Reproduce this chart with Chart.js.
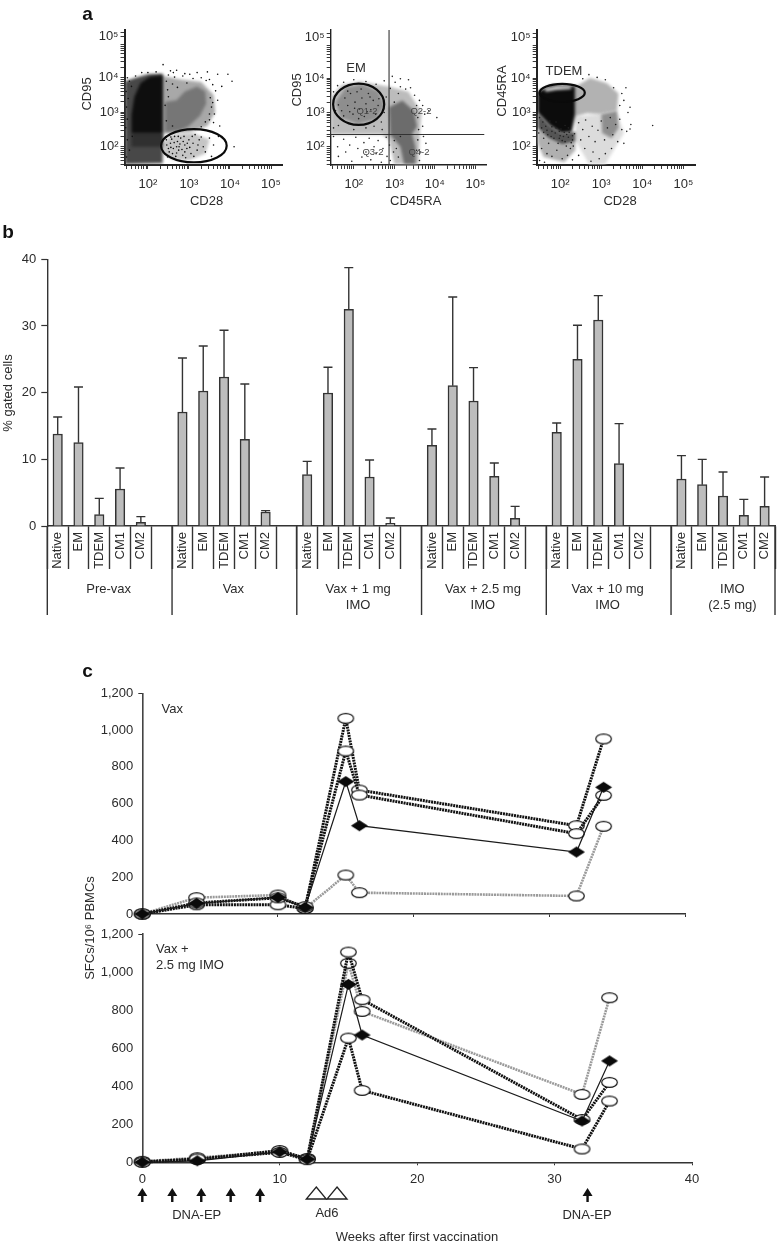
<!DOCTYPE html>
<html>
<head>
<meta charset="utf-8">
<script src="https://cdn.jsdelivr.net/npm/chart.js@4.4.1/dist/chart.umd.js"></script>
<style>
  body { margin: 0; background: #fff; }
  #page { position: relative; width: 777px; height: 1247px; overflow: hidden; }
  canvas { position: absolute; left: 0; top: 0; filter: blur(0.4px); }
</style>
</head>
<body>
<div id="page">
  <canvas id="flow1" width="777" height="1247"></canvas>
  <canvas id="flow2" width="777" height="1247"></canvas>
  <canvas id="flow3" width="777" height="1247"></canvas>
  <canvas id="bars" width="777" height="1247"></canvas>
  <canvas id="vax" width="777" height="1247"></canvas>
  <canvas id="imo" width="777" height="1247"></canvas>
</div>
<script>
// panel b
const cellTypes = ["Native", "EM", "TDEM", "CM1", "CM2", ""];
const groupNames = [["Pre-vax"], ["Vax"], ["Vax + 1 mg", "IMO"], ["Vax + 2.5 mg", "IMO"], ["Vax + 10 mg", "IMO"], ["IMO", "(2.5 mg)"]];
const gatedMeans = [
  13.8, 12.5, 1.7, 5.55, 0.55, null,
  17.1, 20.25, 22.35, 13, 2.1, null,
  7.7, 19.95, 32.5, 7.35, 0.4, null,
  12.1, 21.05, 18.75, 7.45, 1.15, null,
  14.05, 25, 30.9, 9.35, null, null,
  7.05, 6.2, 4.5, 1.6, 2.95,
];
const gatedUpper = [
  16.35, 20.85, 4.15, 8.7, 1.4, null,
  25.2, 27, 29.35, 21.3, 2.3, null,
  9.7, 23.8, 38.75, 9.9, 1.2, null,
  14.55, 34.35, 23.75, 9.45, 2.95, null,
  15.45, 30.1, 34.55, 15.35, null, null,
  10.55, 10, 8.1, 4, 7.35,
];

// panel c
const weeks = [0, 4, 10, 12, 15, 16, 32, 34];
const vaxHigh = [0, 50, 50, 30, 1064, 674, 480, 952];
const vaxMid = [0, 60, 88, 40, 886, 647, 437, 645];
const vaxDiamond = [0, 58, 90, 36, 720, 480, 337, 689];
const vaxGrey = [0, 89, 103, 30, 212, 116, 98, 477];
const imoHigh = [3, 15, 62, 18, 1105, 855, 225, 420];
const imoGrey = [5, 24, 58, 20, 1046, 793, 357, 865];
const imoDiamond = [0, 8, 55, 16, 935, 669, 217, 533];
const imoLow = [0, 18, 52, 14, 653, 378, 70, 322];
const dnaWeeks = [0, 2.18, 4.29, 6.43, 8.57, 32.4];
const ad6Weeks = [12.66, 14.17];

// panel a, everything in decades (log10)
const p1Black = [[1.6,2.39],[1.6,2.93],[1.67,3.45],[1.82,3.85],[2.05,4.03],[2.36,4.07],[2.36,2.39]];
const p1DarkLow = [[1.6,2.39],[2.36,2.39],[2.36,2.0],[1.6,2.0]];
const p1Speckle = [[1.44,1.5],[1.44,3.9],[1.7,4.0],[2.0,4.1],[2.36,4.12],[2.36,2.0],[2.36,1.52]];
const p1Heart = [[2.42,3.3],[2.7,3.35],[2.9,3.6],[3.2,3.75],[3.4,3.6],[3.42,3.25],[3.27,2.9],[3.0,2.6],[2.8,2.48],[2.42,2.42]];
const p1Halo = [[2.36,4.05],[2.8,3.95],[3.3,3.88],[3.6,3.5],[3.64,3.0],[3.45,2.6],[3.0,2.42],[2.36,2.38]];
const p1InGate = [[2.35,2.1],[2.6,2.35],[3.1,2.4],[3.5,2.2],[3.4,1.8],[3.0,1.6],[2.6,1.62],[2.38,1.8]];
const p1Dots = [
  [2.37,4.38],[2.55,4.2],[2.62,4.15],[2.7,4.22],[2.9,4.12],[3.02,4.1],[3.2,4.15],[3.45,4.17],[3.5,3.95],[3.7,4.1],
  [3.95,4.1],[4.05,3.9],[3.8,3.75],[3.65,3.62],[3.7,3.35],[3.58,3.8],[3.55,3.15],[3.62,2.95],[3.75,2.6],[3.6,2.7],
  [3.5,2.78],[3.42,3.92],[3.3,4.0],[3.1,3.98],[2.85,4.05],[2.65,4.02],[2.5,4.08],[2.45,3.9],[2.6,3.82],[2.48,3.65],
  [2.72,3.72],[2.95,3.85],[3.52,3.42],[3.58,3.28],[3.5,2.95],[3.4,2.72],[3.3,2.58],[3.15,2.5],[1.5,4.0],[1.55,3.9],
  [1.47,3.6],[1.52,3.4],[1.6,3.75],[1.7,4.05],[1.85,4.15],[2.0,4.15],[2.2,4.17],[1.48,3.15],[1.5,2.8],[1.46,2.55],
  [2.45,2.2],[2.5,1.95],[2.55,2.1],[2.6,1.8],[2.65,2.3],[2.7,2.0],[2.75,1.9],[2.72,2.15],[2.8,2.25],[2.85,1.75],
  [2.9,2.05],[2.95,1.95],[3.0,2.2],[3.05,1.8],[3.1,2.1],[3.15,2.35],[3.2,1.9],[3.25,2.2],[3.3,2.28],[3.35,2.0],
  [3.4,1.85],[3.5,2.25],[3.6,2.05],[3.72,2.3],[2.42,1.78],[2.48,1.7],[2.58,2.22],[2.62,1.95],[2.68,1.72],[2.78,2.08],
  [2.83,1.92],[2.88,2.3],[2.92,1.68],[3.02,1.98],[3.08,2.3],[3.12,1.72],[3.22,2.05],[4.1,2.0],[3.55,1.72],[2.52,2.33],
  [2.46,2.05],[2.52,1.85],[2.56,1.98],[2.64,2.12],[2.7,1.82],[2.76,2.0],[2.86,2.15],[2.96,2.1],[2.44,2.28],[2.56,2.28],
  [2.74,2.3],[2.9,1.85],[1.5,2.2],[1.55,1.9],[1.62,2.3],[1.48,1.7],[2.42,3.2],[2.5,3.45],[2.45,2.75],[2.6,2.6],
];
const p2Core = [[2.87,3.15],[3.2,3.35],[3.48,3.05],[3.56,2.58],[3.44,2.38],[3.52,2.0],[3.52,1.5],[3.24,1.5],[3.15,2.0],[2.9,2.35]];
const p2Halo = [[1.44,3.45],[1.7,3.8],[2.15,3.9],[2.87,3.75],[3.35,3.6],[3.67,3.0],[3.63,2.38],[3.6,1.5],[3.0,1.5],[2.87,2.2],[2.7,2.36],[1.44,2.36]];
const p2Gate = [[1.55,3.3],[1.8,3.72],[2.2,3.82],[2.6,3.62],[2.75,3.2],[2.55,2.8],[2.1,2.66],[1.68,2.85]];
const p2Dots = [
  [1.5,3.6],[1.6,3.78],[1.75,3.88],[2.0,3.95],[2.3,3.9],[2.55,3.82],[2.75,3.92],[2.9,3.7],[3.02,3.88],[3.15,3.75],
  [3.28,3.68],[3.4,3.72],[3.5,3.5],[3.62,3.35],[3.7,3.2],[3.75,2.95],[3.85,3.05],[4.05,2.85],[3.7,2.6],[3.72,2.3],
  [3.78,2.1],[3.65,1.85],[3.62,1.6],[3.35,3.95],[3.15,3.98],[2.95,4.05],
  [1.5,2.3],[1.6,2.0],[1.62,1.72],[1.75,2.22],[1.8,1.85],[1.9,2.05],[1.95,1.58],[2.05,2.28],[2.1,1.95],[2.2,1.7],
  [2.25,2.12],[2.3,1.85],[2.38,2.25],[2.42,1.62],[2.5,2.0],[2.55,1.8],[2.6,2.18],[2.68,1.55],[2.72,1.95],[2.8,2.28],
  [2.82,1.72],[2.88,2.05],[2.9,1.6],[2.98,1.85],[3.0,2.18],
  [1.7,3.05],[1.78,3.42],[1.85,3.2],[1.92,3.55],[1.98,2.95],[2.03,3.3],[2.08,3.6],[2.14,3.1],[2.2,3.42],[2.26,2.88],
  [2.3,3.25],[2.36,3.55],[2.42,3.08],[2.48,3.35],[2.54,2.95],[2.6,3.2],[1.75,2.9],[2.02,3.12],[2.18,3.68],[2.33,3.02],
  [1.62,3.22],[1.9,3.02],[2.4,3.45],[2.12,2.82],[2.62,3.4],[1.85,3.62],
  [1.5,2.55],[1.62,2.62],[1.55,3.05],[2.0,2.5],[2.3,2.55],[2.5,2.6],[2.68,2.72],[2.75,3.0],[2.8,3.45],[2.7,2.5],
  [3.1,3.55],[3.0,3.3],[3.55,3.2],[3.58,2.85],[3.6,2.5],[3.55,1.9],[3.58,2.2],[3.1,1.7],[3.05,1.95],[3.15,2.3],
];
const p3Black = [[1.45,3.6],[1.8,3.8],[2.37,3.77],[2.37,2.95],[2.28,2.43],[2.03,2.4],[1.75,2.62],[1.45,3.0]];
const p3Grey = [[2.37,3.75],[2.73,4.0],[3.14,3.85],[3.42,3.55],[3.38,3.05],[2.97,2.95],[2.65,2.98],[2.37,2.88]];
const p3Mid = [[3.0,2.95],[3.38,3.05],[3.42,2.55],[3.25,2.25],[3.02,2.4]];
const p3MidGrey = [[2.37,2.88],[3.38,3.0],[3.55,2.4],[3.3,1.9],[3.1,1.5],[2.7,1.5],[2.37,2.2]];
const p3BlackMid = [[1.45,3.0],[1.75,2.62],[2.03,2.4],[2.37,2.43],[2.37,2.15],[2.05,2.05],[1.7,2.25],[1.45,2.55]];
const p3BlackLow = [[1.45,2.55],[1.7,2.25],[2.05,2.05],[2.37,2.15],[2.37,1.9],[2.1,1.55],[1.6,1.7],[1.45,2.1]];
const p3White = [[1.62,3.7],[1.9,3.77],[2.25,3.76],[2.28,3.68],[1.9,3.65],[1.65,3.6]];
const p3Dots = [
  [1.5,2.85],[1.55,2.55],[1.6,2.25],[1.48,2.4],[1.65,2.6],[1.7,2.35],[1.72,2.1],[1.8,2.45],[1.85,2.25],[1.9,2.55],
  [1.95,2.1],[2.0,2.32],[2.05,2.18],[2.1,2.42],[2.15,2.02],[2.2,2.28],[2.25,1.95],[2.3,2.2],[2.35,2.38],[1.55,1.95],
  [1.68,1.8],[1.8,1.72],[1.92,1.9],[2.05,1.65],[2.18,1.75],[2.3,1.62],[1.5,1.6],[1.62,1.55],[1.75,2.75],[2.02,2.52],
  [2.2,2.55],[2.12,2.62],[1.58,2.72],[1.9,2.72],[1.8,2.58],[1.68,2.48],[1.98,2.45],[2.08,2.3],[2.22,2.42],[2.3,2.32],
  [2.16,2.36],[1.88,2.4],[1.78,2.3],[1.6,2.42],[2.27,2.12],[2.12,2.15],[1.98,2.25],[2.32,2.02],
  [2.45,2.7],[2.55,2.5],[2.62,2.78],[2.7,2.3],[2.78,2.6],[2.85,2.15],[2.92,2.48],[3.0,2.75],[3.08,2.2],[3.15,2.55],
  [3.22,2.85],[3.28,2.35],[3.35,2.65],[3.45,2.8],[3.5,2.5],[3.62,2.45],[3.7,2.52],[3.4,2.15],[3.25,1.95],[3.1,1.8],
  [2.95,1.65],[2.8,1.85],[2.6,1.95],[2.5,2.2],[2.45,1.75],[2.75,1.58],[3.55,2.1],[3.45,3.2],[3.55,3.35],[3.5,3.55],
  [3.3,3.72],[3.6,3.72],[3.1,3.95],[2.9,4.02],[2.7,4.1],[2.55,3.98],[3.7,3.15],[3.72,2.65],[4.25,2.62],[3.65,3.0],
];
const quadVertical = [[2.87, 1.47], [2.87, 5.4]];
const quadHorizontal = [[1.33, 2.36], [5.22, 2.36]];

const FONT = "Liberation Sans";
const INK = "#2b2b2b";
const W = 777;
const H = 1247;

// write text at page position, the canvas covers the whole page
function textPlugin(notes, extra) {
  return {
    id: "notes",
    afterDraw(chart) {
      const ctx = chart.ctx;
      if (extra) extra(chart, ctx);
      notes.forEach((n) => {
        ctx.save();
        ctx.translate(n.x, n.y);
        if (n.rot) ctx.rotate(n.rot);
        ctx.font = `${n.bold ? "bold " : ""}${n.size || 13}px "${FONT}"`;
        ctx.fillStyle = n.color || INK;
        ctx.textAlign = n.align || "center";
        ctx.textBaseline = "middle";
        ctx.fillText(n.t, 0, 0);
        ctx.restore();
      });
    },
  };
}

// scale boxes get a fixed size, labels are clipped to them
function pagePadding(a, yBox, xBox) {
  return { left: a.left - yBox, right: W - a.right, top: a.top, bottom: H - a.bottom - xBox };
}

function asPoints(pairs) {
  return pairs.map((p) => ({ x: p[0], y: p[1] }));
}

// ---- panel a ----
const decadeLabels = { 2: "10²", 3: "10³", 4: "10⁴", 5: "10⁵", 5.19: "10⁵" };

function decadeTicks(top, lastMajor) {
  const t = [2, 3, 4, lastMajor];
  for (let n = 1; n < 6; n++) {
    for (let k = 2; k < 10; k++) {
      const v = n + Math.log10(k);
      if (v >= 1.44 && v < top) t.push(v);
    }
  }
  return t.map((value) => ({ value }));
}

function flowAxis(min, max, lastMajor, width, labelPad) {
  return {
    type: "linear",
    min,
    max,
    afterBuildTicks: (s) => { s.ticks = decadeTicks(max, lastMajor); },
    afterFit: (s) => {
      if (s.isHorizontal()) s.height = 30;
      else s.width = 30;
    },
    border: { color: "#222", width },
    grid: { drawOnChartArea: false, tickLength: 4, tickColor: "#222", tickWidth: 0.9 },
    ticks: {
      autoSkip: false,
      maxRotation: 0,
      padding: labelPad,
      color: INK,
      font: { family: FONT, size: 13 },
      callback: (v) => decadeLabels[v] || "",
    },
  };
}

function shape(pairs, color) {
  return { data: asPoints(pairs), showLine: true, fill: "shape", borderWidth: 0, pointRadius: 0, backgroundColor: color, borderColor: color, cloud: true };
}

function dots(pairs, color, r) {
  return { data: asPoints(pairs), showLine: false, pointRadius: r || 0.8, borderWidth: 0, backgroundColor: color };
}

// soft edges for the dense areas, dots and gates stay sharp
const softClouds = {
  id: "softClouds",
  beforeDatasetsDraw(chart) {
    chart.ctx.filter = "blur(1.6px)";
  },
  afterDatasetDraw(chart, args) {
    const prev = chart.data.datasets[args.index - 1];
    if (!prev || !prev.cloud) chart.ctx.filter = "none";
  },
  afterDatasetsDraw(chart) {
    chart.ctx.filter = "none";
  },
};

function flowChart(id, area, datasets, gate, notes, axisWidth) {
  const drawGate = (chart, ctx) => {
    const sx = chart.scales.x;
    const sy = chart.scales.y;
    const cx = sx.getPixelForValue(gate.x);
    const cy = sy.getPixelForValue(gate.y);
    ctx.save();
    ctx.strokeStyle = "#0a0a0a";
    ctx.lineWidth = 2.2;
    ctx.beginPath();
    ctx.ellipse(cx, cy, sx.getPixelForValue(gate.x + gate.rx) - cx, cy - sy.getPixelForValue(gate.y + gate.ry), 0, 0, Math.PI * 2);
    ctx.stroke();
    ctx.restore();
  };
  return new Chart(document.getElementById(id), {
    type: "scatter",
    data: { datasets },
    options: {
      responsive: false,
      animation: false,
      events: [],
      layout: { padding: pagePadding(area, 30, 30) },
      plugins: { legend: { display: false }, tooltip: { enabled: false } },
      scales: {
        x: flowAxis(1.43, 5.28, 5, axisWidth, 8),
        y: flowAxis(1.47, 5.4, 5.19, axisWidth, 2),
      },
    },
    plugins: [softClouds, textPlugin(notes, drawGate)],
  });
}

flowChart(
  "flow1",
  { left: 124.5, right: 282.5, top: 29.5, bottom: 165 },
  [
    dots(p1Dots, "#111"),
    shape(p1InGate, "rgba(150,150,150,.55)"),
    shape(p1Black, "#0e0e0e"),
    shape(p1DarkLow, "#303030"),
    shape(p1Speckle, "#484848"),
    shape(p1Heart, "#767676"),
    shape(p1Halo, "#a8a8a8"),
  ],
  { x: 3.12, y: 2.03, rx: 0.8, ry: 0.48 },
  [
    { t: "a", x: 87.5, y: 15, bold: true, size: 19, color: "#111" },
    { t: "CD28", x: 206.5, y: 201 },
    { t: "CD95", x: 87.5, y: 94, rot: -Math.PI / 2 },
  ],
  2
);

flowChart(
  "flow2",
  { left: 330.7, right: 486.7, top: 30, bottom: 165 },
  [
    {
      data: asPoints(quadVertical), showLine: true, pointRadius: 0, borderWidth: 1.1, borderColor: "#333", clip: false,
    },
    {
      data: asPoints(quadHorizontal), showLine: true, pointRadius: 0, borderWidth: 1.1, borderColor: "#333", clip: false,
    },
    dots(p2Dots, "#222"),
    shape(p2Core, "#6c6c6c"),
    shape(p2Gate, "#8e8e8e"),
    shape(p2Halo, "#bcbcbc"),
  ],
  { x: 2.12, y: 3.24, rx: 0.63, ry: 0.6 },
  [
    { t: "EM", x: 356, y: 68.5 },
    { t: "CD45RA", x: 415.7, y: 201 },
    { t: "CD95", x: 297.5, y: 90, rot: -Math.PI / 2 },
    { t: "Q1-2", x: 367, y: 111, size: 9.5, color: "#444" },
    { t: "Q2-2", x: 421, y: 111, size: 9.5, color: "#444" },
    { t: "Q3-2", x: 373, y: 152.5, size: 9.5, color: "#444" },
    { t: "Q4-2", x: 419, y: 152.5, size: 9.5, color: "#444" },
  ],
  1.4
);

flowChart(
  "flow3",
  { left: 536.7, right: 695, top: 30, bottom: 165 },
  [
    dots(p3Dots, "#222"),
    shape(p3White, "#d8d8d8"),
    shape(p3Black, "#0c0c0c"),
    shape(p3BlackMid, "#555"),
    shape(p3BlackLow, "#b0b0b0"),
    shape(p3Mid, "#8e8e8e"),
    shape(p3Grey, "#b2b2b2"),
    shape(p3MidGrey, "#dcdcdc"),
  ],
  { x: 2.05, y: 3.57, rx: 0.55, ry: 0.26 },
  [
    { t: "TDEM", x: 564, y: 71.5 },
    { t: "CD28", x: 620, y: 201 },
    { t: "CD45RA", x: 502.5, y: 91, rot: -Math.PI / 2 },
  ],
  2
);

// ---- panel b ----
const barLabels = [];
groupNames.forEach((g, gi) => {
  cellTypes.forEach((c, ci) => {
    if (gi < groupNames.length - 1 || ci < cellTypes.length - 1) barLabels.push(c);
  });
});

function drawBarExtras(chart, ctx) {
  const sx = chart.scales.x;
  const sy = chart.scales.y;
  const slot = sx.getPixelForValue(1) - sx.getPixelForValue(0);
  ctx.save();
  ctx.strokeStyle = "#333";
  ctx.lineWidth = 1.4;
  // error bars, upper arm only
  gatedUpper.forEach((u, i) => {
    if (u === null || gatedMeans[i] === null) return;
    const x = sx.getPixelForValue(i);
    const y0 = sy.getPixelForValue(gatedMeans[i]);
    const y1 = sy.getPixelForValue(u);
    ctx.beginPath();
    ctx.moveTo(x, y0);
    ctx.lineTo(x, y1);
    ctx.moveTo(x - 4.5, y1);
    ctx.lineTo(x + 4.5, y1);
    ctx.stroke();
  });
  // long separators between treatment groups
  for (let i = 0; i <= groupNames.length; i++) {
    const x = i === groupNames.length ? sx.right : sx.left + i * 6 * slot;
    ctx.beginPath();
    ctx.moveTo(x, sy.bottom);
    ctx.lineTo(x, 615);
    ctx.stroke();
  }
  ctx.fillStyle = INK;
  ctx.font = `13px "${FONT}"`;
  ctx.textAlign = "center";
  ctx.textBaseline = "middle";
  groupNames.forEach((lines, i) => {
    const c = sx.getPixelForValue(i * 6 + 2.45);
    lines.forEach((t, k) => ctx.fillText(t, c, 589 + k * 16));
  });
  ctx.restore();
}

new Chart(document.getElementById("bars"), {
  type: "bar",
  data: {
    labels: barLabels,
    datasets: [
      {
        data: gatedMeans,
        backgroundColor: "#bdbdbd",
        borderColor: "#333",
        borderWidth: 1.5,
        barThickness: 9.5,
      },
    ],
  },
  options: {
    responsive: false,
    animation: false,
    events: [],
    layout: { padding: pagePadding({ left: 47.3, right: 775, top: 259.3, bottom: 526 }, 40, 48) },
    plugins: { legend: { display: false }, tooltip: { enabled: false } },
    scales: {
      x: {
        type: "category",
        offset: true,
        afterFit: (s) => { s.height = 48; },
        border: { color: "#333", width: 1.4 },
        grid: { offset: true, drawOnChartArea: false, tickLength: 43, tickColor: "#333", tickWidth: 1.4 },
        ticks: {
          autoSkip: false,
          minRotation: 90,
          maxRotation: 90,
          padding: -37,
          color: INK,
          font: { family: FONT, size: 13 },
        },
      },
      y: {
        min: 0,
        max: 40,
        afterFit: (s) => { s.width = 40; },
        border: { color: "#333", width: 1.4 },
        grid: { drawOnChartArea: false, tickLength: 6, tickColor: "#333", tickWidth: 1.2 },
        ticks: { stepSize: 10, padding: 5, color: INK, font: { family: FONT, size: 13 } },
      },
    },
  },
  plugins: [
    textPlugin(
      [
        { t: "b", x: 8, y: 232.5, bold: true, size: 19, color: "#111" },
        { t: "% gated cells", x: 8.5, y: 393, rot: -Math.PI / 2 },
      ],
      drawBarExtras
    ),
  ],
});

// ---- panel c ----
function makeMarker(kind) {
  const c = document.createElement("canvas");
  c.width = 19;
  c.height = 13;
  const g = c.getContext("2d");
  g.beginPath();
  if (kind === "oval") {
    g.ellipse(9.5, 6.5, 7.8, 4.9, 0, 0, Math.PI * 2);
    g.fillStyle = "#fff";
    g.fill();
    g.lineWidth = 1.2;
    g.strokeStyle = "#111";
    g.stroke();
  } else {
    g.moveTo(1, 6.5);
    g.lineTo(9.5, 1);
    g.lineTo(18, 6.5);
    g.lineTo(9.5, 12);
    g.closePath();
    g.fillStyle = "#0a0a0a";
    g.fill();
  }
  return c;
}
const ovalMark = makeMarker("oval");
const diamondMark = makeMarker("diamond");

function seriesLine(values, look) {
  const looks = {
    dark: { borderColor: "#111", borderWidth: 3, borderDash: [2, 0.8], pointStyle: ovalMark },
    grey: { borderColor: "#9a9a9a", borderWidth: 2.6, borderDash: [2, 0.8], pointStyle: ovalMark },
    diamond: { borderColor: "#1a1a1a", borderWidth: 1.2, pointStyle: diamondMark },
  };
  return {
    data: weeks.map((w, i) => ({ x: w, y: values[i] })),
    tension: 0,
    clip: false,
    pointRadius: 6,
    ...looks[look],
  };
}

function timeChart(id, area, xMax, datasets, showXLabels, notes, extra) {
  return new Chart(document.getElementById(id), {
    type: "line",
    data: { datasets },
    options: {
      responsive: false,
      animation: false,
      events: [],
      layout: { padding: pagePadding(area, 44, 24) },
      plugins: { legend: { display: false }, tooltip: { enabled: false } },
      scales: {
        x: {
          type: "linear",
          min: 0,
          max: xMax,
          afterFit: (s) => { s.height = 24; },
          border: { color: "#333", width: 1.4 },
          grid: {
            drawOnChartArea: false,
            tickLength: 3,
            tickColor: (c) => (c.tick && c.tick.value === 0 ? "rgba(0,0,0,0)" : "#333"),
          },
          ticks: {
            stepSize: 10,
            padding: 6,
            display: showXLabels,
            maxRotation: 0,
            color: INK,
            font: { family: FONT, size: 13 },
          },
        },
        y: {
          min: 0,
          max: 1200,
          afterFit: (s) => { s.width = 44; },
          border: { color: "#444", width: 1.6 },
          grid: {
            drawOnChartArea: false,
            tickLength: 4,
            tickColor: (c) => (c.tick && c.tick.value === 1200 ? "#333" : "rgba(0,0,0,0)"),
          },
          ticks: {
            stepSize: 200,
            padding: 5,
            color: INK,
            font: { family: FONT, size: 13 },
            callback: (v) => v.toLocaleString("en-US"),
          },
        },
      },
    },
    plugins: [textPlugin(notes, extra)],
  });
}

timeChart(
  "vax",
  { left: 142.3, right: 685, top: 693.3, bottom: 914 },
  40,
  [
    seriesLine(vaxDiamond, "diamond"),
    seriesLine(vaxMid, "dark"),
    seriesLine(vaxHigh, "dark"),
    seriesLine(vaxGrey, "grey"),
  ],
  false,
  [
    { t: "c", x: 87.5, y: 672, bold: true, size: 19, color: "#111" },
    { t: "Vax", x: 161.5, y: 709, align: "left" },
  ]
);

function drawDoses(chart, ctx) {
  const sx = chart.scales.x;
  ctx.save();
  ctx.fillStyle = "#111";
  dnaWeeks.forEach((w) => {
    const x = sx.getPixelForValue(w);
    ctx.beginPath();
    ctx.moveTo(x, 1188);
    ctx.lineTo(x + 5, 1196);
    ctx.lineTo(x + 1.2, 1196);
    ctx.lineTo(x + 1.2, 1202);
    ctx.lineTo(x - 1.2, 1202);
    ctx.lineTo(x - 1.2, 1196);
    ctx.lineTo(x - 5, 1196);
    ctx.closePath();
    ctx.fill();
  });
  ctx.strokeStyle = "#222";
  ctx.lineWidth = 1.3;
  ad6Weeks.forEach((w) => {
    const x = sx.getPixelForValue(w);
    ctx.beginPath();
    ctx.moveTo(x, 1187);
    ctx.lineTo(x + 10, 1199);
    ctx.lineTo(x - 10, 1199);
    ctx.closePath();
    ctx.stroke();
  });
  ctx.restore();
}

timeChart(
  "imo",
  { left: 142.3, right: 692, top: 934, bottom: 1162.3 },
  40,
  [
    seriesLine(imoDiamond, "diamond"),
    seriesLine(imoLow, "dark"),
    seriesLine(imoHigh, "dark"),
    seriesLine(imoGrey, "grey"),
  ],
  true,
  [
    { t: "Vax +", x: 156, y: 949, align: "left" },
    { t: "2.5 mg IMO", x: 156, y: 965, align: "left" },
    { t: "SFCs/10⁶ PBMCs", x: 90, y: 928, rot: -Math.PI / 2 },
    { t: "DNA-EP", x: 196.7, y: 1215 },
    { t: "Ad6", x: 327, y: 1213 },
    { t: "DNA-EP", x: 587, y: 1215 },
    { t: "Weeks after first vaccination", x: 417, y: 1237 },
  ],
  drawDoses
);
</script>
</body>
</html>
